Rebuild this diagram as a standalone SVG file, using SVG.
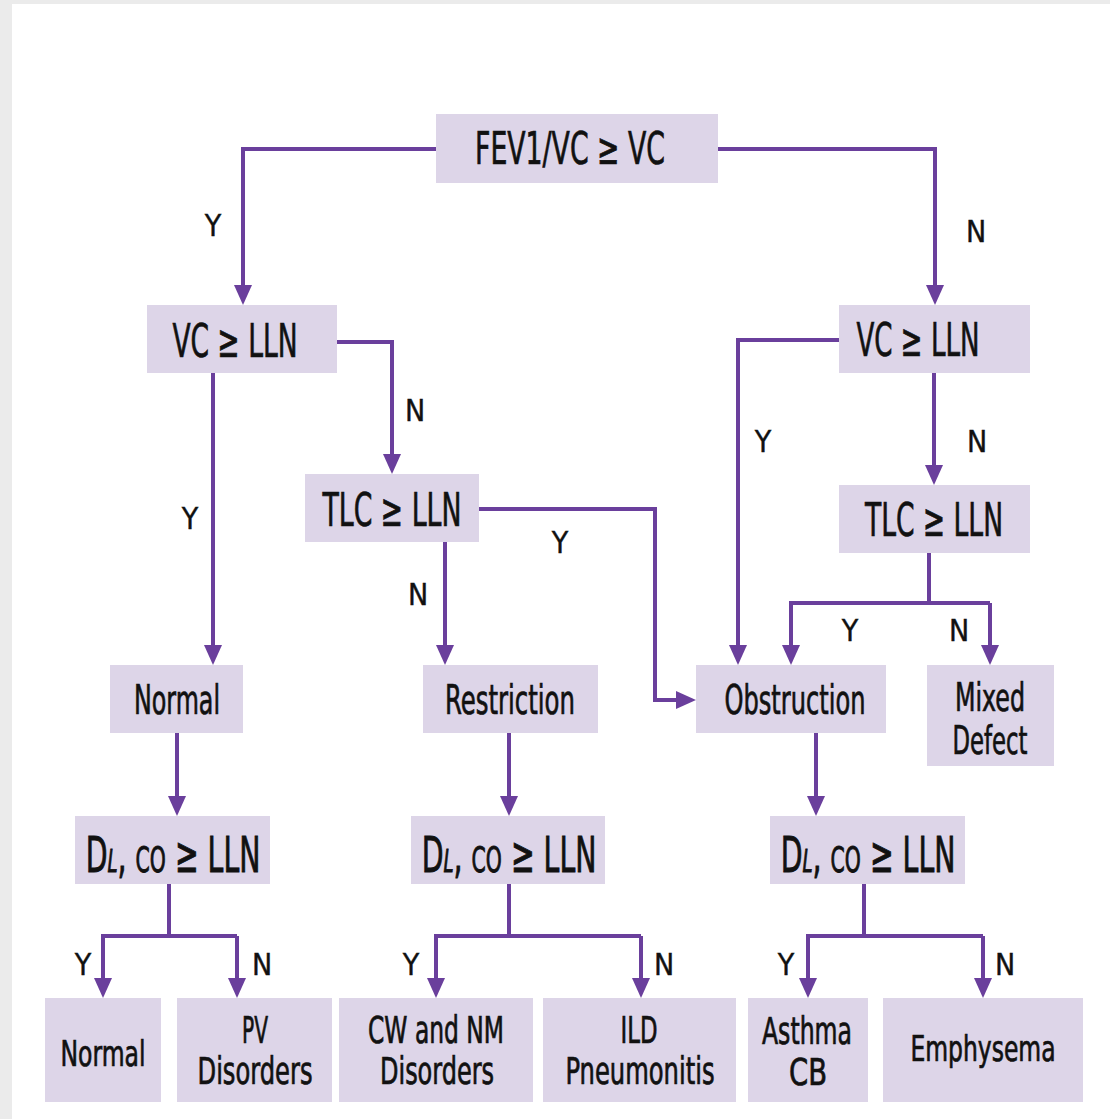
<svg xmlns="http://www.w3.org/2000/svg" width="1110" height="1119" viewBox="0 0 1110 1119">
<style>
.box{fill:#ddd5e8;}
.t{font-family:"Liberation Sans Narrow","DejaVu Sans Condensed","Liberation Sans",sans-serif;fill:#111;stroke:#111;stroke-width:0.7;text-anchor:middle;}
.d{font-family:"DejaVu Sans Condensed","Liberation Sans Narrow","Liberation Sans",sans-serif;fill:#111;stroke:#111;stroke-width:0.9;text-anchor:middle;font-size:50px;}
.lbl{font-family:"Liberation Sans Narrow","DejaVu Sans Condensed","Liberation Sans",sans-serif;fill:#111;stroke:#111;stroke-width:0.4;text-anchor:middle;font-size:30px;}
.c{fill:none;stroke:#6a3f9c;stroke-width:4;stroke-linejoin:miter;}
</style>
<defs>
<marker id="ah" viewBox="0 0 20 18" refX="10" refY="9" markerWidth="20" markerHeight="18" markerUnits="userSpaceOnUse" orient="auto">
<path d="M0,0 L20,9 L0,18 z" fill="#6a3f9c"/>
</marker>
</defs>
<rect x="0" y="0" width="1110" height="1119" fill="#ebebeb"/>
<rect x="12" y="4" width="1098" height="1115" fill="#ffffff"/>

<g id="connectors">
<path class="c" d="M436,149 H243 V295" marker-end="url(#ah)"/>
<path class="c" d="M718,149 H935 V295" marker-end="url(#ah)"/>
<path class="c" d="M337,342 H392 V464" marker-end="url(#ah)"/>
<path class="c" d="M213,373 V655" marker-end="url(#ah)"/>
<path class="c" d="M479,509 H655 V700 H686" marker-end="url(#ah)"/>
<path class="c" d="M445,542 V655" marker-end="url(#ah)"/>
<path class="c" d="M839,340 H738 V655" marker-end="url(#ah)"/>
<path class="c" d="M934,373 V475" marker-end="url(#ah)"/>
<path class="c" d="M929,553 V603"/>
<path class="c" d="M791,655 V603 H990"/>
<path class="c" d="M791,603 V655" marker-end="url(#ah)"/>
<path class="c" d="M990,603 V655" marker-end="url(#ah)"/>
<path class="c" d="M177,733 V806" marker-end="url(#ah)"/>
<path class="c" d="M509,733 V806" marker-end="url(#ah)"/>
<path class="c" d="M816,733 V806" marker-end="url(#ah)"/>
<path class="c" d="M169,884 V936"/>
<path class="c" d="M103,988 V936 H237"/>
<path class="c" d="M103,936 V988" marker-end="url(#ah)"/>
<path class="c" d="M237,936 V988" marker-end="url(#ah)"/>
<path class="c" d="M509,884 V936"/>
<path class="c" d="M436,988 V936 H641"/>
<path class="c" d="M436,936 V988" marker-end="url(#ah)"/>
<path class="c" d="M641,936 V988" marker-end="url(#ah)"/>
<path class="c" d="M864,884 V936"/>
<path class="c" d="M808,988 V936 H983"/>
<path class="c" d="M808,936 V988" marker-end="url(#ah)"/>
<path class="c" d="M983,936 V988" marker-end="url(#ah)"/>
</g>

<g id="labels">
<text class="lbl" x="213" y="236">Y</text>
<text class="lbl" x="976" y="242">N</text>
<text class="lbl" x="415" y="421">N</text>
<text class="lbl" x="190" y="529">Y</text>
<text class="lbl" x="763" y="452">Y</text>
<text class="lbl" x="977" y="452">N</text>
<text class="lbl" x="560" y="553">Y</text>
<text class="lbl" x="418" y="605">N</text>
<text class="lbl" x="850" y="641">Y</text>
<text class="lbl" x="959" y="641">N</text>
<text class="lbl" x="83" y="975">Y</text>
<text class="lbl" x="262" y="975">N</text>
<text class="lbl" x="411" y="975">Y</text>
<text class="lbl" x="664" y="975">N</text>
<text class="lbl" x="786" y="975">Y</text>
<text class="lbl" x="1005" y="975">N</text>
</g>

<g id="n-fev">
<rect class="box" x="436" y="114" width="282" height="69"/>
<text class="t" x="570" y="164" font-size="44" textLength="190" lengthAdjust="spacingAndGlyphs">FEV1/VC ≥ VC</text>
</g>
<g id="n-vc-left">
<rect class="box" x="147" y="305" width="190" height="68"/>
<text class="t" x="235" y="357" font-size="46" textLength="125" lengthAdjust="spacingAndGlyphs">VC ≥ LLN</text>
</g>
<g id="n-vc-right">
<rect class="box" x="839" y="305" width="191" height="68"/>
<text class="t" x="918" y="356" font-size="46" textLength="123" lengthAdjust="spacingAndGlyphs">VC ≥ LLN</text>
</g>
<g id="n-tlc-left">
<rect class="box" x="305" y="474" width="174" height="68"/>
<text class="t" x="392" y="526" font-size="46" textLength="139" lengthAdjust="spacingAndGlyphs">TLC ≥ LLN</text>
</g>
<g id="n-tlc-right">
<rect class="box" x="839" y="485" width="191" height="68"/>
<text class="t" x="934" y="536" font-size="46" textLength="138" lengthAdjust="spacingAndGlyphs">TLC ≥ LLN</text>
</g>
<g id="n-normal1">
<rect class="box" x="110" y="665" width="133" height="68"/>
<text class="t" x="177" y="714" font-size="40" textLength="86" lengthAdjust="spacingAndGlyphs">Normal</text>
</g>
<g id="n-restriction">
<rect class="box" x="423" y="665" width="175" height="68"/>
<text class="t" x="510" y="714" font-size="40" textLength="130" lengthAdjust="spacingAndGlyphs">Restriction</text>
</g>
<g id="n-obstruction">
<rect class="box" x="696" y="665" width="190" height="68"/>
<text class="t" x="795" y="714" font-size="40" textLength="141" lengthAdjust="spacingAndGlyphs">Obstruction</text>
</g>
<g id="n-mixed">
<rect class="box" x="927" y="665" width="127" height="101"/>
<text class="t" x="990" y="711" font-size="39" textLength="70" lengthAdjust="spacingAndGlyphs">Mixed</text>
<text class="t" x="990" y="754" font-size="39" textLength="75" lengthAdjust="spacingAndGlyphs">Defect</text>
</g>
<g id="n-dlco1">
<rect class="box" x="75" y="816" width="195" height="68"/>
<text class="d" transform="translate(173,872) scale(0.63,1)">D<tspan font-style="italic" font-size="32">L</tspan>, <tspan font-size="36">CO</tspan> ≥   LLN</text>
</g>
<g id="n-dlco2">
<rect class="box" x="411" y="816" width="194" height="68"/>
<text class="d" transform="translate(509,872) scale(0.63,1)">D<tspan font-style="italic" font-size="32">L</tspan>, <tspan font-size="36">CO</tspan> ≥   LLN</text>
</g>
<g id="n-dlco3">
<rect class="box" x="770" y="816" width="195" height="68"/>
<text class="d" transform="translate(868,872) scale(0.63,1)">D<tspan font-style="italic" font-size="32">L</tspan>, <tspan font-size="36">CO</tspan> ≥   LLN</text>
</g>
<g id="n-normal2">
<rect class="box" x="45" y="998" width="116" height="104"/>
<text class="t" x="103" y="1066" font-size="36" textLength="85" lengthAdjust="spacingAndGlyphs">Normal</text>
</g>
<g id="n-pv">
<rect class="box" x="177" y="998" width="155" height="104"/>
<text class="t" x="255" y="1043" font-size="37" textLength="26" lengthAdjust="spacingAndGlyphs">PV</text>
<text class="t" x="255" y="1084" font-size="37" textLength="115" lengthAdjust="spacingAndGlyphs">Disorders</text>
</g>
<g id="n-cw">
<rect class="box" x="339" y="998" width="194" height="104"/>
<text class="t" x="436" y="1043" font-size="37" textLength="136" lengthAdjust="spacingAndGlyphs">CW and NM</text>
<text class="t" x="437" y="1084" font-size="37" textLength="114" lengthAdjust="spacingAndGlyphs">Disorders</text>
</g>
<g id="n-ild">
<rect class="box" x="543" y="998" width="193" height="104"/>
<text class="t" x="639" y="1043" font-size="37" textLength="37" lengthAdjust="spacingAndGlyphs">ILD</text>
<text class="t" x="640" y="1084" font-size="37" textLength="149" lengthAdjust="spacingAndGlyphs">Pneumonitis</text>
</g>
<g id="n-asthma">
<rect class="box" x="748" y="998" width="120" height="104"/>
<text class="t" x="807" y="1044" font-size="37" textLength="90" lengthAdjust="spacingAndGlyphs">Asthma</text>
<text class="t" x="808" y="1085" font-size="37" textLength="38" lengthAdjust="spacingAndGlyphs">CB</text>
</g>
<g id="n-emphysema">
<rect class="box" x="883" y="998" width="200" height="104"/>
<text class="t" x="983" y="1061" font-size="36" textLength="145" lengthAdjust="spacingAndGlyphs">Emphysema</text>
</g>
</svg>
